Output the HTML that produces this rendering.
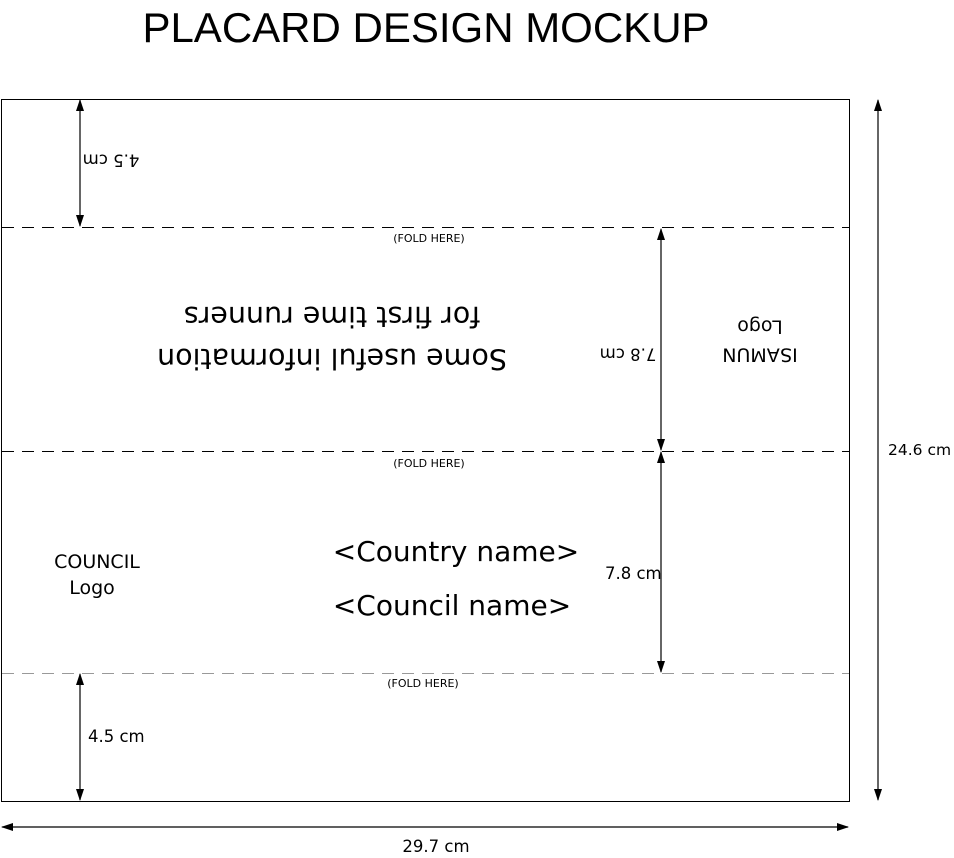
<!DOCTYPE html>
<html><head><style>body{margin:0;background:#fff}svg{display:block}text{font-family:"DejaVu Sans","Liberation Sans",sans-serif;fill:#000}</style></head>
<body>
<svg width="954" height="858" viewBox="0 0 954 858" xmlns="http://www.w3.org/2000/svg">
<defs>
<marker id="a" markerWidth="12" markerHeight="8" refX="11" refY="4" orient="auto" markerUnits="userSpaceOnUse"><path d="M0,0 L12,4 L0,8 Z" fill="#000"/></marker>
</defs>
<text x="426" y="42" font-size="42" text-anchor="middle" style="font-family:'Liberation Sans',sans-serif">PLACARD DESIGN MOCKUP</text>
<rect x="1.5" y="99.5" width="848" height="702" fill="none" stroke="#000" stroke-width="1"/>
<g stroke-dasharray="12,8" stroke-width="1">
<line x1="2" y1="227.5" x2="849" y2="227.5" stroke="#000"/>
<line x1="2" y1="451.5" x2="849" y2="451.5" stroke="#000"/>
<line x1="2" y1="673.5" x2="849" y2="673.5" stroke="#999"/>
</g>
<g font-size="11" text-anchor="middle">
<text x="429" y="242">(FOLD HERE)</text>
<text x="429" y="467">(FOLD HERE)</text>
<text x="423" y="687">(FOLD HERE)</text>
</g>
<g stroke="#000" stroke-width="1.2" fill="none">
<line x1="80" y1="110" x2="80" y2="100" marker-end="url(#a)"/><line x1="80" y1="110" x2="80" y2="226" marker-end="url(#a)"/>
<line x1="80" y1="690" x2="80" y2="674" marker-end="url(#a)"/><line x1="80" y1="690" x2="80" y2="800" marker-end="url(#a)"/>
<line x1="661" y1="240" x2="661" y2="229" marker-end="url(#a)"/><line x1="661" y1="240" x2="661" y2="450" marker-end="url(#a)"/>
<line x1="661" y1="462" x2="661" y2="452" marker-end="url(#a)"/><line x1="661" y1="462" x2="661" y2="672" marker-end="url(#a)"/>
<line x1="878" y1="110" x2="878" y2="100" marker-end="url(#a)"/><line x1="878" y1="110" x2="878" y2="800" marker-end="url(#a)"/>
<line x1="12" y1="827" x2="2" y2="827" marker-end="url(#a)"/><line x1="12" y1="827" x2="848" y2="827" marker-end="url(#a)"/>
</g>
<text x="111" y="159" font-size="16.5" text-anchor="middle" dominant-baseline="middle" transform="rotate(180 111 159)">4.5 cm</text>
<text x="628" y="353" font-size="16.5" text-anchor="middle" dominant-baseline="middle" transform="rotate(180 628 353)">7.8 cm</text>
<text x="332" y="357" font-size="28.5" text-anchor="middle" dominant-baseline="middle" transform="rotate(180 332 357)">Some useful information</text>
<text x="332" y="315" font-size="28.5" text-anchor="middle" dominant-baseline="middle" transform="rotate(180 332 315)">for first time runners</text>
<text x="760" y="354" font-size="19" text-anchor="middle" dominant-baseline="middle" transform="rotate(180 760 354)">ISAMUN</text>
<text x="760" y="326" font-size="19" text-anchor="middle" dominant-baseline="middle" transform="rotate(180 760 326)">Logo</text>
<text x="97" y="568" font-size="19" text-anchor="middle">COUNCIL</text>
<text x="92" y="594" font-size="19" text-anchor="middle">Logo</text>
<text x="456" y="561" font-size="28" text-anchor="middle">&lt;Country name&gt;</text>
<text x="452" y="615" font-size="28" text-anchor="middle">&lt;Council name&gt;</text>
<text x="605" y="579" font-size="16.5">7.8 cm</text>
<text x="88" y="742" font-size="16.5">4.5 cm</text>
<text x="888" y="455" font-size="15.5">24.6 cm</text>
<text x="436" y="852" font-size="16.5" text-anchor="middle">29.7 cm</text>
</svg>
</body></html>
